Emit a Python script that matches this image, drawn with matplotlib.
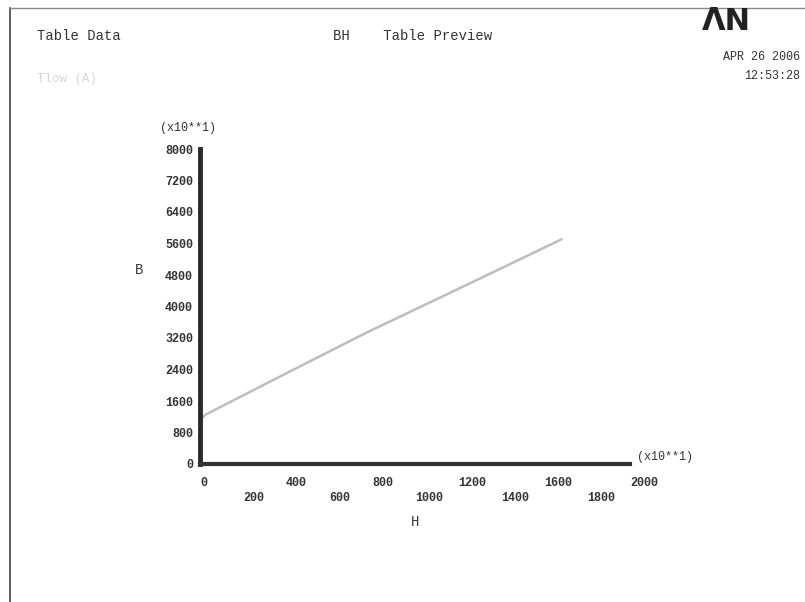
import matplotlib
matplotlib.use("Agg")
import matplotlib.pyplot as plt
from matplotlib.lines import Line2D

# BH curve (axis units are x10**1)
H = [0, 5, 23, 370, 772, 1142, 1450, 1682]
B = [960, 1130, 1245, 2217, 3330, 4293, 5098, 5708]

x_major = [0, 400, 800, 1200, 1600, 2000]
x_minor = [200, 600, 1000, 1400, 1800]
y_ticks = [0, 800, 1600, 2400, 3200, 4000, 4800, 5600, 6400, 7200, 8000]

MONO = "Liberation Mono"
INK = "#333333"

fig = plt.figure(figsize=(8.05, 6.02), dpi=100)
fig.patch.set_facecolor("white")

# page frame (left and top edge)
fig.add_artist(Line2D([10 / 805, 10 / 805], [0, 1 - 8 / 602], color="#444444", lw=1.2))
fig.add_artist(Line2D([10 / 805, 1], [1 - 8 / 602, 1 - 8 / 602], color="#888888", lw=1.0))

ax = fig.add_axes([200 / 805, 1 - 464 / 602, 430 / 805, 315 / 602])
ax.plot(H, B, color="#bdbdbd", lw=1.8, solid_capstyle="round")
ax.set_xlim(0, 2000)
ax.set_ylim(0, 8000)

for s in ["top", "right"]:
    ax.spines[s].set_visible(False)
ax.spines["left"].set_linewidth(3.5)
ax.spines["left"].set_color("#2a2a2a")
ax.spines["bottom"].set_linewidth(3.0)
ax.spines["bottom"].set_color("#333333")

ax.set_yticks(y_ticks)
ax.set_yticklabels([str(v) for v in y_ticks], fontsize=8.5, family=MONO,
                   fontweight="bold", color=INK)
ax.set_xticks(x_major)
ax.set_xticklabels([str(v) for v in x_major], fontsize=8.5, family=MONO,
                   fontweight="bold", color=INK, ha="left")
ax.set_xticks(x_minor, minor=True)
ax.set_xticklabels([str(v) for v in x_minor], minor=True, fontsize=8.5, family=MONO,
                   fontweight="bold", color=INK, ha="left")
ax.tick_params(axis="y", length=0, pad=5)
ax.tick_params(axis="x", which="major", length=0, pad=9)
ax.tick_params(axis="x", which="minor", length=0, pad=20)

fig.text(160 / 805, 1 - 128 / 602, "(x10**1)", fontsize=8.5, family=MONO,
         color=INK, va="center", ha="left")
fig.text(637 / 805, 1 - 457 / 602, "(x10**1)", fontsize=8.5, family=MONO,
         color=INK, va="center", ha="left")
fig.text(139 / 805, 1 - 270 / 602, "B", fontsize=10, family=MONO, color=INK,
         va="center", ha="center")
fig.text(415 / 805, 1 - 522 / 602, "H", fontsize=10, family=MONO, color=INK,
         va="center", ha="center")

# header
fig.text(37 / 805, 1 - 36 / 602, "Table Data", fontsize=10, family=MONO,
         color=INK, va="center", ha="left")
fig.text(413 / 805, 1 - 36 / 602, "BH    Table Preview", fontsize=10, family=MONO,
         color=INK, va="center", ha="center")
fig.text(37 / 805, 1 - 79 / 602, "Tlow (A)", fontsize=9, family=MONO,
         color="#d6d6d6", va="center", ha="left")
fig.text(726 / 805, 1 - 21 / 602, "ΛN", fontsize=22, family="DejaVu Sans",
         fontweight="heavy", color="#222222", va="center", ha="center")
fig.text(800 / 805, 1 - 57 / 602, "APR 26 2006", fontsize=8.5, family=MONO,
         color=INK, va="center", ha="right")
fig.text(800 / 805, 1 - 76 / 602, "12:53:28", fontsize=8.5, family=MONO,
         color=INK, va="center", ha="right")

fig.savefig("out.png", dpi=100, facecolor="white")
